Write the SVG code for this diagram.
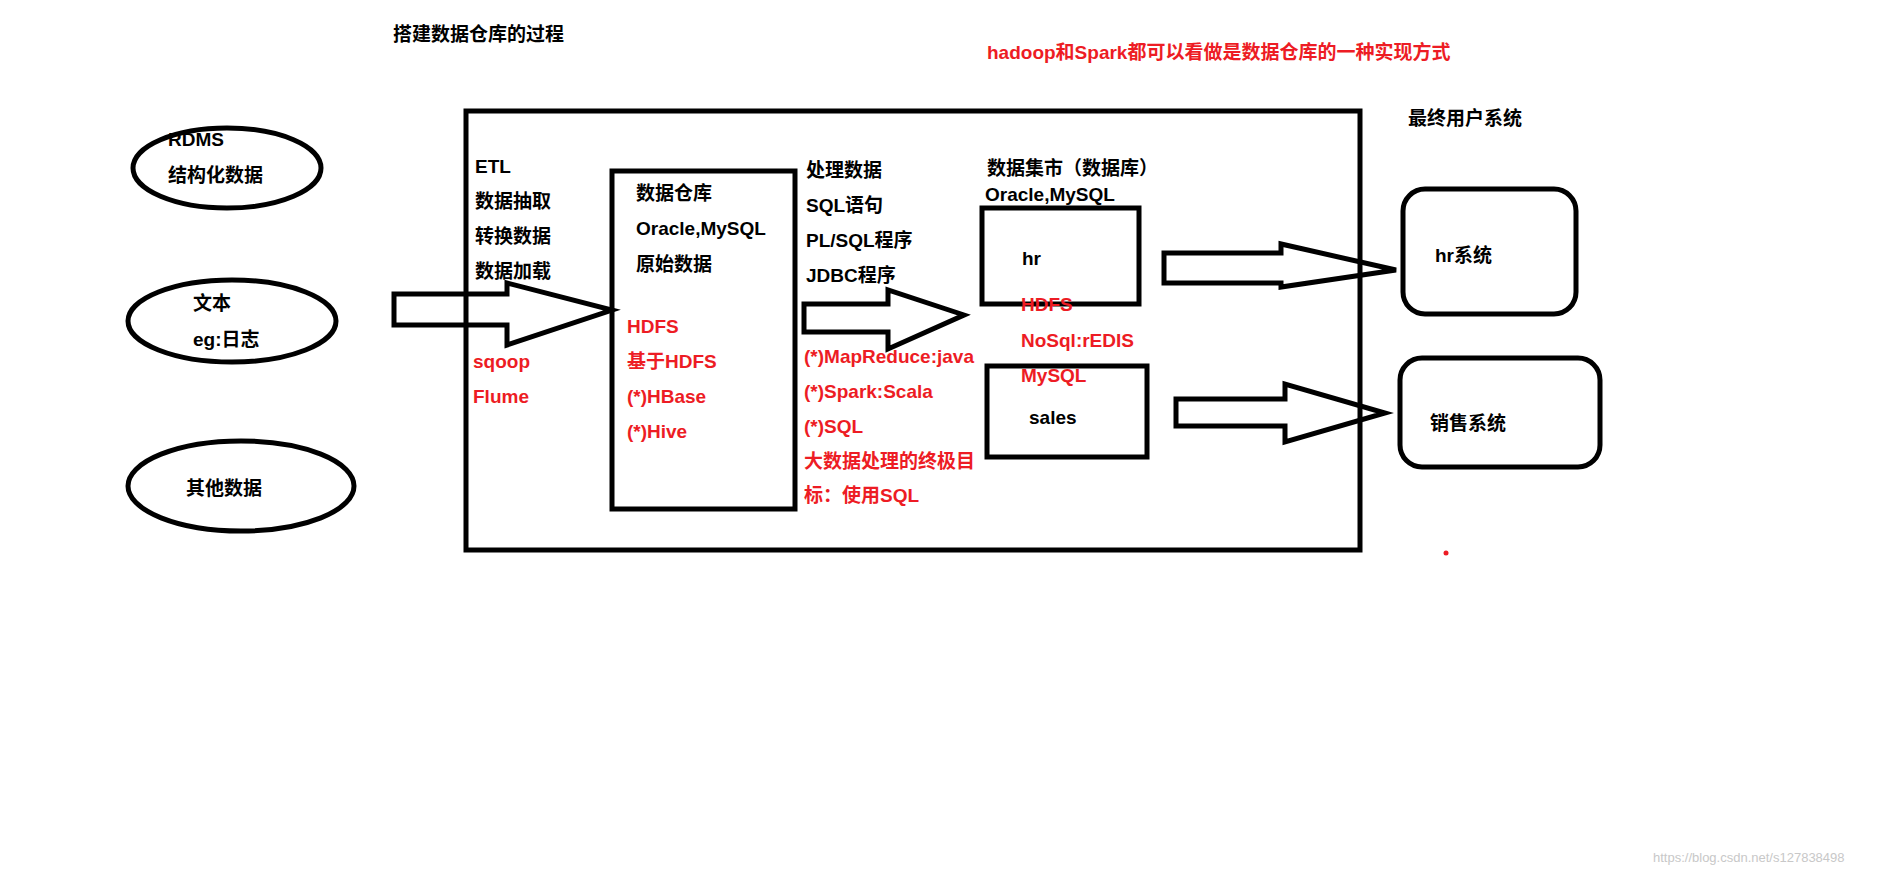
<svg xmlns="http://www.w3.org/2000/svg" width="1892" height="873" viewBox="0 0 1892 873">
<style>
.s{fill:none;stroke:#000;stroke-width:5}
.t{font-family:"Liberation Sans","Noto Sans CJK SC",sans-serif;font-weight:bold;font-size:19px;fill:#000}
.r{fill:#ed1c24}
.w{font-family:"Liberation Sans",sans-serif;font-size:13px;fill:#c8c8c8}
</style>
<rect width="1892" height="873" fill="#fff"/>
<g id="title"><text class="t" x="393" y="41">搭建数据仓库的过程</text></g>
<g id="note"><text class="t r" x="987" y="59">hadoop和Spark都可以看做是数据仓库的一种实现方式</text></g>
<g id="outer"><rect class="s" x="466" y="111" width="894" height="439"/></g>
<g id="rdms"><ellipse class="s" cx="227" cy="168" rx="94" ry="40"/><text class="t" x="168" y="146">RDMS</text><text class="t" x="168" y="182">结构化数据</text></g>
<g id="text"><ellipse class="s" cx="232" cy="321" rx="104" ry="41"/><text class="t" x="193" y="310">文本</text><text class="t" x="193" y="346">eg:日志</text></g>
<g id="other"><ellipse class="s" cx="241" cy="486" rx="113" ry="45"/><text class="t" x="186" y="495">其他数据</text></g>
<g id="etl"><text class="t" x="475" y="173">ETL</text><text class="t" x="475" y="208">数据抽取</text><text class="t" x="475" y="243">转换数据</text><text class="t" x="475" y="278">数据加载</text><text class="t r" x="473" y="368">sqoop</text><text class="t r" x="473" y="403">Flume</text></g>
<g id="warehouse"><rect class="s" x="612" y="171" width="183" height="338"/><text class="t" x="636" y="200">数据仓库</text><text class="t" x="636" y="235">Oracle,MySQL</text><text class="t" x="636" y="271">原始数据</text><text class="t r" x="627" y="333">HDFS</text><text class="t r" x="627" y="368">基于HDFS</text><text class="t r" x="627" y="403">(*)HBase</text><text class="t r" x="627" y="438">(*)Hive</text></g>
<g id="process"><text class="t" x="806" y="177">处理数据</text><text class="t" x="806" y="212">SQL语句</text><text class="t" x="806" y="247">PL/SQL程序</text><text class="t" x="806" y="282">JDBC程序</text><text class="t r" x="804" y="363">(*)MapReduce:java</text><text class="t r" x="804" y="398">(*)Spark:Scala</text><text class="t r" x="804" y="433">(*)SQL</text><text class="t r" x="804" y="468">大数据处理的终极目</text><text class="t r" x="804" y="502">标：使用SQL</text></g>
<g id="mart"><text class="t" x="987" y="175">数据集市（数据库）</text><text class="t" x="985" y="201">Oracle,MySQL</text></g>
<g id="hr"><rect class="s" x="982" y="208" width="157" height="96"/><text class="t" x="1022" y="265">hr</text></g>
<g id="martred"><text class="t r" x="1021" y="311">HDFS</text><text class="t r" x="1021" y="347">NoSql:rEDIS</text><text class="t r" x="1021" y="382">MySQL</text></g>
<g id="sales"><rect class="s" x="987" y="366" width="160" height="91"/><text class="t" x="1029" y="424">sales</text></g>
<g id="users"><text class="t" x="1408" y="125">最终用户系统</text></g>
<g id="hrsys"><rect class="s" x="1403" y="189" width="173" height="125" rx="22"/><text class="t" x="1435" y="262">hr系统</text></g>
<g id="salessys"><rect class="s" x="1400" y="358" width="200" height="109" rx="22"/><text class="t" x="1430" y="430">销售系统</text></g>
<g id="connectors">
<polygon class="s" points="394,294 507,294 507,283 612,310 507,345 507,325 394,325"/>
<polygon class="s" points="804,304 888,304 888,290 964,315 888,349 888,332 804,332"/>
<polygon class="s" points="1164,253 1281,253 1281,244 1396,270 1281,287 1281,283 1164,283"/>
<polygon class="s" points="1176,399 1285,399 1285,384 1385,413 1285,442 1285,426 1176,426"/>
</g>
<circle cx="1446" cy="553" r="2.5" fill="#ed1c24"/>
<text class="w" x="1653" y="862">https://blog.csdn.net/s127838498</text>
</svg>
